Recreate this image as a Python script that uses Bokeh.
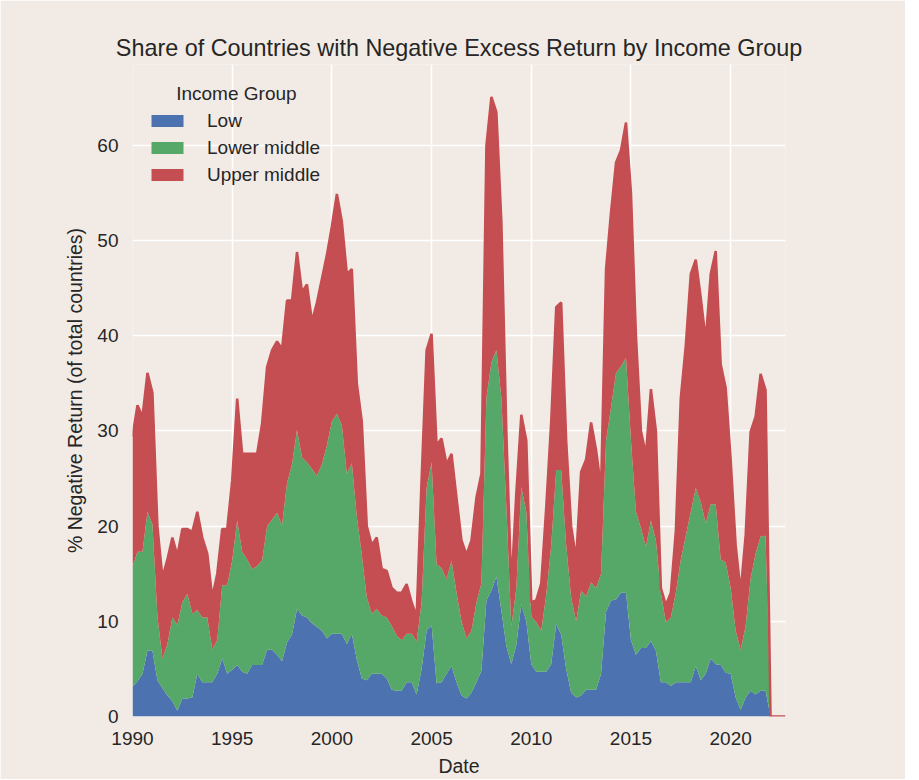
from bokeh.plotting import figure
from bokeh.models import ColumnDataSource, FixedTicker, Legend, LegendItem, Label, Range1d
from bokeh.embed import file_html
from bokeh.resources import INLINE

# Quarterly observations, 1990Q1 .. 2022Q4
dates = [1990 + i * 0.25 for i in range(132)]

# Cumulative tops (% of total countries)
low_top = [3.1, 3.7, 4.5, 6.9, 6.9, 3.8, 3.0, 2.2, 1.6, 0.6, 1.9, 1.9, 2.0, 4.5, 3.6, 3.6,
           3.6, 4.5, 6.1, 4.5, 4.9, 5.4, 4.7, 4.5, 5.4, 5.4, 5.4, 7.0, 7.0, 6.5, 5.8, 7.8,
           8.6, 11.3, 10.6, 10.4, 9.8, 9.4, 9.0, 8.2, 8.7, 8.7, 8.7, 7.6, 8.7, 6.0, 4.0, 3.8,
           4.5, 4.5, 4.5, 4.0, 2.8, 2.7, 2.7, 3.6, 3.6, 2.3, 5.0, 9.0, 9.6, 3.5, 3.6, 4.5,
           5.3, 3.6, 2.2, 1.9, 2.5, 3.6, 4.8, 12.2, 13.2, 14.7, 11.1, 7.4, 5.5, 7.5, 11.8, 10.0,
           5.5, 4.7, 4.7, 4.7, 5.5, 9.7, 8.6, 5.0, 2.5, 2.0, 2.2, 2.8, 2.8, 2.8, 4.5, 11.0,
           12.2, 12.3, 13.0, 13.0, 8.0, 6.5, 7.2, 7.2, 7.9, 6.9, 3.6, 3.6, 3.2, 3.6, 3.6, 3.6,
           3.6, 5.3, 3.8, 4.5, 6.1, 5.5, 5.4, 4.6, 4.5, 2.0, 0.7, 2.0, 2.7, 2.3, 2.7, 2.7,
           0, 0, 0, 0]
lower_middle_top = [15.7, 17.3, 17.3, 21.5, 20.2, 10.5, 6.1, 7.6, 10.4, 9.6, 12.0, 12.9, 10.8, 11.2, 10.4, 10.4,
                    7.1, 8.0, 13.8, 13.8, 16.4, 20.6, 17.3, 16.5, 15.5, 15.8, 16.4, 20.0, 20.7, 21.4, 20.1, 24.5,
                    26.5, 30.1, 27.2, 26.7, 26.0, 25.3, 26.5, 28.5, 31.0, 31.8, 30.6, 25.5, 26.6, 21.0, 17.0, 12.5,
                    10.8, 11.3, 10.6, 10.4, 9.5, 8.5, 8.0, 8.7, 8.7, 7.9, 12.0, 24.0, 26.7, 16.0, 15.6, 14.4,
                    16.4, 13.0, 10.0, 8.2, 9.0, 12.0, 14.0, 33.5, 37.2, 38.5, 33.5, 22.0, 9.4, 13.5, 24.1, 21.5,
                    10.5, 9.9, 9.0, 12.8, 18.0, 25.9, 25.9, 18.0, 12.5, 10.0, 13.2, 12.6, 14.1, 13.5, 15.0, 29.0,
                    32.5, 36.1, 36.8, 37.7, 29.0, 21.5, 19.8, 17.8, 20.6, 18.5, 13.0, 9.9, 10.4, 13.0, 16.5, 19.0,
                    21.5, 24.0, 22.5, 20.3, 22.3, 22.3, 16.5, 16.2, 13.5, 9.0, 7.0, 9.5, 14.5, 17.1, 18.9, 19.0,
                    0, 0, 0, 0]
upper_middle_top = [29.4, 32.7, 31.5, 36.1, 34.0, 20.0, 14.6, 16.5, 18.8, 16.9, 19.7, 19.7, 19.4, 21.5, 18.8, 17.1,
                    12.5, 15.0, 19.7, 19.7, 24.8, 33.4, 27.6, 27.6, 27.6, 27.6, 30.8, 36.7, 38.5, 39.4, 38.6, 43.7,
                    43.7, 48.8, 44.6, 45.4, 41.5, 43.5, 46.0, 48.5, 51.5, 54.9, 52.0, 46.5, 47.0, 35.0, 31.0, 20.0,
                    18.0, 18.8, 15.5, 15.3, 13.5, 13.0, 13.0, 13.9, 12.0, 10.5, 25.0, 38.5, 40.2, 28.5, 29.2, 26.5,
                    27.6, 23.0, 18.5, 17.0, 18.5, 23.0, 25.5, 60.0, 65.1, 63.5, 52.0, 30.0, 13.5, 23.5, 31.7, 29.0,
                    12.0, 12.2, 14.0, 22.0, 31.0, 43.0, 43.5, 29.0, 20.0, 16.5, 25.7, 27.0, 30.9, 28.0, 24.0, 47.0,
                    53.0, 58.2, 59.5, 62.4, 55.0, 40.0, 30.0, 27.5, 34.4, 30.0, 13.5, 11.7, 13.0, 19.5, 33.5, 39.0,
                    46.5, 48.0, 44.0, 39.5, 46.5, 48.9, 37.0, 34.5, 27.0, 18.0, 13.1, 19.0, 29.9, 31.5, 36.0, 34.3,
                    0, 0, 0, 0]

groups = ["Low", "Lower middle", "Upper middle"]
colors = ["#4c72b0", "#55a868", "#c44e52"]
x_ticks = [1990, 1995, 2000, 2005, 2010, 2015, 2020]
y_ticks = [0, 10, 20, 30, 40, 50, 60]

low = low_top
lower_middle = [b - a for a, b in zip(low_top, lower_middle_top)]
upper_middle = [b - a for a, b in zip(lower_middle_top, upper_middle_top)]

src = ColumnDataSource(dict(date=dates, low=low, lower_middle=lower_middle,
                            upper_middle=upper_middle, total=upper_middle_top))

BG = "#f2ebe5"
TXT = "#262626"
FONT = "Liberation Sans"

p = figure(frame_width=653, frame_height=652, output_backend="svg", toolbar_location=None,
           x_range=Range1d(1990, 2022.75), y_range=Range1d(0, 68.5),
           min_border_left=132, min_border_right=120, min_border_top=64, min_border_bottom=56,
           title="Share of Countries with Negative Excess Return by Income Group")
p.background_fill_color = BG
p.border_fill_color = BG
p.outline_line_color = None

p.title.align = "center"
p.title.text_font = FONT
p.title.text_font_size = "23.4px"
p.title.text_font_style = "normal"
p.title.text_color = TXT
p.title.standoff = 7

renderers = p.varea_stack(["low", "lower_middle", "upper_middle"], x="date",
                          color=colors, source=src)
p.line("date", "total", source=src, color=colors[2], line_width=2.5)

for ax in (p.xaxis[0], p.yaxis[0]):
    ax.axis_line_color = None
    ax.major_tick_line_color = None
    ax.minor_tick_line_color = None
    ax.major_label_text_font = FONT
    ax.major_label_text_font_size = "19px"
    ax.major_label_text_color = TXT
    ax.axis_label_text_font = FONT
    ax.axis_label_text_font_size = "19.5px"
    ax.axis_label_text_font_style = "normal"
    ax.axis_label_text_color = TXT

p.xaxis.ticker = FixedTicker(ticks=x_ticks)
p.yaxis.ticker = FixedTicker(ticks=y_ticks)
p.xaxis.major_label_standoff = 9
p.yaxis.major_label_standoff = 8
p.xaxis.axis_label = "Date"
p.yaxis.axis_label = "% Negative Return (of total countries)"
p.xaxis.axis_label_standoff = 7
p.yaxis.axis_label_standoff = 8

p.grid.grid_line_color = "white"
p.grid.grid_line_width = 1.5

legend = Legend(items=[LegendItem(label=g, renderers=[r]) for g, r in zip(groups, renderers)],
                location=(15, 528), padding=0, margin=0, spacing=0,
                glyph_width=40, glyph_height=15, label_height=27, label_standoff=20,
                label_text_font=FONT, label_text_font_size="19px", label_text_color=TXT,
                border_line_color=None, background_fill_alpha=0)
p.add_layout(legend, "center")
p.add_layout(Label(x=1995.21, y=65.5, text="Income Group", text_align="center",
                   text_baseline="middle", text_font=FONT, text_font_size="19px",
                   text_color=TXT))

open("out.html", "w").write(file_html(p, INLINE))
